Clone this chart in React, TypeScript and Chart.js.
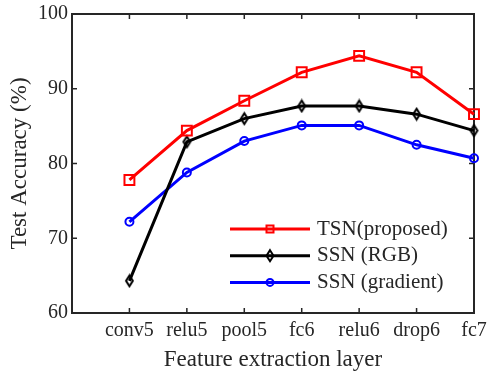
import React, { useEffect, useRef } from 'react';
import { Chart, registerables } from 'chart.js';

Chart.register(...registerables);

const categories = ['conv5', 'relu5', 'pool5', 'fc6', 'relu6', 'drop6', 'fc7'];
const tsnProposed = [77.8, 84.4, 88.4, 92.2, 94.4, 92.2, 86.6];
const ssnRGB = [64.3, 82.9, 86.0, 87.7, 87.7, 86.6, 84.4];
const ssnGradient = [72.2, 78.8, 83.0, 85.1, 85.1, 82.5, 80.7];
const yTicks = [60, 70, 80, 90, 100];
const seriesNames = ['TSN(proposed)', 'SSN (RGB)', 'SSN (gradient)'];
const seriesColors = ['#ff0000', '#000000', '#0000ff'];

const AXIS = '#262626';
const FONT = '"Liberation Serif", "Times New Roman", serif';
const NOFILL = 'rgba(0,0,0,0)';

function makeDiamond(hw: number, hh: number, lw: number, color: string) {
  const c = document.createElement('canvas');
  c.width = Math.round(hw * 2 + lw * 2);
  c.height = Math.round(hh * 2 + lw * 2);
  const ctx = c.getContext('2d')!;
  const cx = c.width / 2;
  const cy = c.height / 2;
  ctx.beginPath();
  ctx.moveTo(cx, cy - hh);
  ctx.lineTo(cx + hw, cy);
  ctx.lineTo(cx, cy + hh);
  ctx.lineTo(cx - hw, cy);
  ctx.closePath();
  ctx.lineWidth = lw;
  ctx.strokeStyle = color;
  ctx.stroke();
  return c;
}

function drawMarker(ctx: CanvasRenderingContext2D, kind: number, x: number, y: number, color: string) {
  ctx.save();
  ctx.strokeStyle = color;
  ctx.lineWidth = 2;
  ctx.beginPath();
  if (kind === 0) {
    ctx.rect(x - 3.5, y - 3.5, 7, 7);
  } else if (kind === 1) {
    ctx.moveTo(x, y - 5.5);
    ctx.lineTo(x + 3.5, y);
    ctx.lineTo(x, y + 5.5);
    ctx.lineTo(x - 3.5, y);
    ctx.closePath();
  } else {
    ctx.arc(x, y, 3.5, 0, Math.PI * 2);
  }
  ctx.stroke();
  ctx.restore();
}

const axesPlugin = {
  id: 'axesBox',
  beforeDatasetsDraw(chart: any) {
    const { ctx, chartArea, scales } = chart;
    const { left, right, top, bottom } = chartArea;
    ctx.save();
    ctx.strokeStyle = AXIS;
    ctx.lineWidth = 2;
    ctx.strokeRect(left, top, right - left, bottom - top);
    ctx.lineWidth = 1.5;
    ctx.beginPath();
    yTicks.forEach((v) => {
      const py = scales.y.getPixelForValue(v);
      ctx.moveTo(left, py);
      ctx.lineTo(left + 5, py);
      ctx.moveTo(right, py);
      ctx.lineTo(right - 5, py);
    });
    categories.forEach((_, i) => {
      const px = scales.x.getPixelForValue(i);
      ctx.moveTo(px, bottom);
      ctx.lineTo(px, bottom - 5);
      ctx.moveTo(px, top);
      ctx.lineTo(px, top + 5);
    });
    ctx.stroke();
    ctx.restore();
  },
};

const legendPlugin = {
  id: 'insideLegend',
  afterDatasetsDraw(chart: any) {
    const { ctx } = chart;
    const x0 = 230;
    const x1 = 310;
    const ys = [229, 255.7, 282.4];
    ctx.save();
    seriesNames.forEach((name, i) => {
      const y = ys[i];
      ctx.strokeStyle = seriesColors[i];
      ctx.lineWidth = 3;
      ctx.beginPath();
      ctx.moveTo(x0, y);
      ctx.lineTo(x1, y);
      ctx.stroke();
      drawMarker(ctx, i, (x0 + x1) / 2, y, seriesColors[i]);
      ctx.fillStyle = AXIS;
      ctx.font = `21px ${FONT}`;
      ctx.textAlign = 'left';
      ctx.textBaseline = 'middle';
      ctx.fillText(name, 317, y);
    });
    ctx.restore();
  },
};

export default function App() {
  const ref = useRef<HTMLCanvasElement | null>(null);

  useEffect(() => {
    if (!ref.current) return;
    const diamond = makeDiamond(3.4, 5.4, 2, '#000000');
    const toPts = (arr: number[]) => arr.map((v, i) => ({ x: i, y: v }));
    const chart = new Chart(ref.current, {
      type: 'line',
      data: {
        datasets: [
          {
            label: seriesNames[0],
            data: toPts(tsnProposed),
            borderColor: seriesColors[0],
            backgroundColor: NOFILL,
            borderWidth: 3,
            pointStyle: 'rect',
            pointRadius: 7,
            pointBorderWidth: 2,
            pointBorderColor: seriesColors[0],
            pointBackgroundColor: NOFILL,
            clip: false as any,
          },
          {
            label: seriesNames[1],
            data: toPts(ssnRGB),
            borderColor: seriesColors[1],
            backgroundColor: NOFILL,
            borderWidth: 3,
            pointStyle: diamond as any,
            pointRadius: 6,
            clip: false as any,
          },
          {
            label: seriesNames[2],
            data: toPts(ssnGradient),
            borderColor: seriesColors[2],
            backgroundColor: NOFILL,
            borderWidth: 3,
            pointStyle: 'circle',
            pointRadius: 4,
            pointBorderWidth: 2,
            pointBorderColor: seriesColors[2],
            pointBackgroundColor: NOFILL,
            clip: false as any,
          },
        ],
      },
      options: {
        animation: false,
        responsive: true,
        maintainAspectRatio: false,
        layout: { padding: { top: 14, right: 13, left: 0, bottom: 0 } },
        plugins: {
          legend: { display: false },
          tooltip: { enabled: false },
        },
        scales: {
          x: {
            type: 'linear',
            min: -1,
            max: 6,
            grid: { display: false, drawTicks: false },
            border: { display: false },
            ticks: {
              stepSize: 1,
              autoSkip: false,
              maxRotation: 0,
              padding: 6,
              color: AXIS,
              font: { family: FONT, size: 20 },
              callback: (v: any) => (v >= 0 && v < categories.length ? categories[v] : ''),
            },
            title: {
              display: true,
              text: 'Feature extraction layer',
              color: AXIS,
              font: { family: FONT, size: 23, lineHeight: 1.15 },
              padding: { top: 0, bottom: 0 },
            },
            afterFit: (s: any) => {
              s.height = 60;
              s.paddingLeft = 0;
              s.paddingRight = 0;
            },
          },
          y: {
            type: 'linear',
            min: 60,
            max: 100,
            grid: { display: false, drawTicks: false },
            border: { display: false },
            ticks: {
              stepSize: 10,
              padding: 4,
              color: AXIS,
              font: { family: FONT, size: 20 },
            },
            title: {
              display: true,
              text: 'Test Accuracy (%)',
              color: AXIS,
              font: { family: FONT, size: 23, lineHeight: 1.15 },
              padding: { top: 7, bottom: 0 },
            },
            afterFit: (s: any) => {
              s.width = 72;
              s.paddingTop = 0;
              s.paddingBottom = 0;
            },
          },
        },
      },
      plugins: [axesPlugin, legendPlugin],
    } as any);
    return () => chart.destroy();
  }, []);

  return (
    <div style={{ position: 'fixed', left: 0, top: 0, width: 487, height: 373, background: '#ffffff' }}>
      <canvas ref={ref} />
    </div>
  );
}
